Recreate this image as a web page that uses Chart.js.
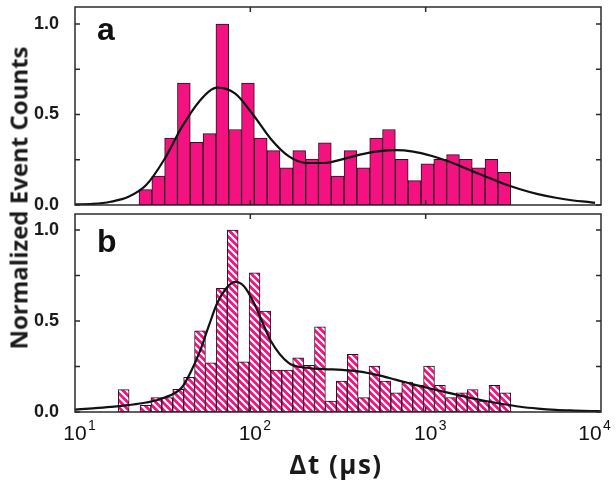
<!DOCTYPE html>
<html>
<head>
<meta charset="utf-8">
<script src="https://cdn.jsdelivr.net/npm/chart.js@4.4.1/dist/chart.umd.min.js"></script>
<style>
body { margin: 0; background: #fff; }
#wrap { position: relative; width: 616px; height: 480px; overflow: hidden; }
#wrap canvas { position: absolute; left: 0; }
.title { position: absolute; font-family: "Open Sans", sans-serif; font-weight: 700; color: #1a1a1a; white-space: nowrap; }
#ytitle { left: 18px; top: 198px; font-size: 24px; transform: translate(-50%, -50%) rotate(-90deg); }
#xtitle { left: 336px; top: 464px; font-size: 26px; letter-spacing: 1.5px; transform: translate(-50%, -50%); }
</style>
</head>
<body>
<div id="wrap">
  <canvas id="chartA" width="616" height="212" style="top:0px"></canvas>
  <canvas id="chartB" width="616" height="272" style="top:208px"></canvas>
  <div class="title" id="ytitle">Normalized Event Counts</div>
  <div class="title" id="xtitle">Δt (μs)</div>
</div>
<script>
// panel a - bin centres (us) and normalized counts
var binsA = [25.21, 29.84, 35.30, 41.77, 49.43, 58.49, 69.22, 81.90, 96.92, 114.7,
             135.7, 160.6, 190.0, 224.9, 266.1, 314.9, 372.6, 440.9, 521.8, 617.4,
             730.6, 864.5, 1023, 1210, 1432, 1695, 2005, 2373, 2808];
var countsA = [0.085, 0.16, 0.37, 0.674, 0.346, 0.394, 1.0, 0.417, 0.674, 0.37,
               0.30, 0.205, 0.30, 0.254, 0.344, 0.16, 0.30, 0.205, 0.37, 0.417,
               0.252, 0.135, 0.228, 0.252, 0.278, 0.252, 0.205, 0.252, 0.18];

// panel b - bin centres (us) and normalized counts
var binsB = [18.95, 21.87, 25.23, 29.12, 33.60, 38.77, 44.74, 51.63, 59.58, 68.76,
             79.34, 91.56, 105.7, 121.9, 140.7, 162.3, 187.4, 216.2, 249.5, 288.0,
             332.3, 383.5, 442.5, 510.6, 589.3, 680.0, 784.7, 905.6, 1045, 1206,
             1392, 1606, 1853, 2139, 2468, 2848];
var countsB = [0.123, 0, 0.037, 0.079, 0.079, 0.125, 0.19, 0.446, 0.27, 0.68,
               1.0, 0.275, 0.765, 0.554, 0.23, 0.23, 0.297, 0.257, 0.468, 0.06,
               0.17, 0.317, 0.079, 0.253, 0.17, 0.105, 0.165, 0.147, 0.253, 0.147,
               0.079, 0.105, 0.123, 0.06, 0.147, 0.105];

// fit curves (x given as log10 of us)
var fitLogA = [1.0, 1.102, 1.203, 1.305, 1.406, 1.508, 1.609, 1.711, 1.812, 1.914,
               2.015, 2.117, 2.218, 2.320, 2.422, 2.523, 2.625, 2.726, 2.828, 2.929,
               3.031, 3.132, 3.234, 3.335, 3.437, 3.539, 3.640, 3.742, 3.843, 3.945, 3.966];
var fitA = [0.003, 0.006, 0.018, 0.045, 0.11, 0.25, 0.43, 0.575, 0.648, 0.615,
            0.50, 0.365, 0.27, 0.232, 0.232, 0.252, 0.278, 0.296, 0.303, 0.295,
            0.272, 0.24, 0.20, 0.16, 0.12, 0.087, 0.06, 0.04, 0.025, 0.015, 0.012];

var fitLogB = [1.0, 1.102, 1.203, 1.305, 1.406, 1.508, 1.609, 1.660, 1.711, 1.762,
               1.812, 1.863, 1.914, 1.965, 2.015, 2.066, 2.117, 2.218, 2.320, 2.422,
               2.523, 2.625, 2.726, 2.828, 2.929, 3.031, 3.132, 3.234, 3.335, 3.437,
               3.539, 3.640, 3.742, 3.843, 3.945, 4.0];
var fitB = [0.013, 0.02, 0.028, 0.038, 0.052, 0.078, 0.135, 0.22, 0.33, 0.47,
            0.60, 0.68, 0.715, 0.69, 0.61, 0.50, 0.39, 0.27, 0.243, 0.236,
            0.232, 0.222, 0.203, 0.178, 0.152, 0.128, 0.105, 0.082, 0.062, 0.044,
            0.029, 0.019, 0.012, 0.008, 0.005, 0.004];

var xMajor = [10, 100, 1000, 10000];
var xExp = ['1', '2', '3', '4'];
var yMajor = [0, 0.5, 1.0];
var yMinor = [0, 0.25, 0.5, 0.75, 1.0];

var PINK = '#F3127F';
var FONT = '"Liberation Sans", Arial, sans-serif';

Chart.defaults.font.family = FONT;
Chart.defaults.color = '#1a1a1a';

// striped fill for panel b
function makeHatch() {
    var s = 7;
    var c = document.createElement('canvas');
    c.width = s; c.height = s;
    var g = c.getContext('2d');
    g.fillStyle = PINK;
    g.fillRect(0, 0, s, s);
    g.strokeStyle = '#fff';
    g.lineWidth = 2.2;
    g.beginPath();
    g.moveTo(-s, 0); g.lineTo(s, 2 * s);
    g.moveTo(0, 0); g.lineTo(s, s);
    g.moveTo(0, -s); g.lineTo(2 * s, s);
    g.stroke();
    return g.createPattern(c, 'repeat');
}

function toXY(xs, ys) {
    return xs.map(function (x, i) { return { x: x, y: ys[i] }; });
}
function logToXY(ls, ys) {
    return ls.map(function (l, i) { return { x: Math.pow(10, l), y: ys[i] }; });
}

// box, inward ticks, panel letter and 10^n labels
var framePlugin = {
    id: 'frame',
    afterDraw: function (chart, args, opts) {
        var ctx = chart.ctx, a = chart.chartArea;
        var xs = chart.scales.x, ys = chart.scales.y;
        ctx.save();
        ctx.strokeStyle = '#2b2b2b';
        ctx.lineWidth = 1.5;
        ctx.beginPath();
        xMajor.forEach(function (v) {
            if (v > 10 && v < 10000) {
                var px = xs.getPixelForValue(v);
                ctx.moveTo(px, a.top); ctx.lineTo(px, a.top + 5);
                ctx.moveTo(px, a.bottom); ctx.lineTo(px, a.bottom - 5);
            }
        });
        yMinor.forEach(function (v) {
            var py = ys.getPixelForValue(v);
            ctx.moveTo(a.left, py); ctx.lineTo(a.left + 5, py);
            ctx.moveTo(a.right, py); ctx.lineTo(a.right - 5, py);
        });
        ctx.stroke();
        ctx.strokeRect(a.left, a.top, a.right - a.left, a.bottom - a.top);

        ctx.fillStyle = '#111';
        ctx.textBaseline = 'alphabetic';
        ctx.font = 'bold 32px ' + FONT;
        ctx.fillText(opts.label, a.left + 22, a.top + opts.dy);

        if (opts.xLabels) {
            xMajor.forEach(function (v, i) {
                var px = xs.getPixelForValue(v);
                // keep the last label inside the canvas, as the original does
                var room = chart.width - 6 - (px + 20);
                if (room < 0) px += room;
                ctx.font = '21px ' + FONT;
                ctx.textAlign = 'center';
                ctx.fillText('10', px, a.bottom + 28);
                ctx.font = '14px ' + FONT;
                ctx.textAlign = 'left';
                ctx.fillText(xExp[i], px + 13, a.bottom + 18);
            });
        }
        ctx.restore();
    }
};

function noPad(scale) {
    scale.paddingTop = 0; scale.paddingBottom = 0;
    scale.paddingLeft = 0; scale.paddingRight = 0;
}

function panelOptions(yMax, showX, padding, xHeight, label, dy) {
    return {
        responsive: false,
        animation: false,
        devicePixelRatio: 1,
        events: [],
        layout: { padding: padding },
        plugins: {
            legend: { display: false },
            tooltip: { enabled: false },
            frame: { label: label, dy: dy, xLabels: showX }
        },
        scales: {
            x: {
                type: 'logarithmic',
                min: 10,
                max: 10000,
                offset: false,
                grid: { display: false },
                border: { display: false },
                afterBuildTicks: function (scale) {
                    scale.ticks = xMajor.map(function (v) { return { value: v, major: true }; });
                },
                afterFit: function (scale) { scale.height = xHeight; noPad(scale); },
                ticks: { display: false }
            },
            y: {
                min: 0,
                max: yMax,
                grid: { display: false },
                border: { display: false },
                afterBuildTicks: function (scale) {
                    scale.ticks = yMajor.map(function (v) { return { value: v }; });
                },
                afterFit: function (scale) { scale.width = 75; noPad(scale); },
                ticks: {
                    padding: 8,
                    font: { size: 18, weight: 'bold' },
                    callback: function (v) { return v.toFixed(1); }
                }
            }
        }
    };
}

new Chart(document.getElementById('chartA'), {
    type: 'bar',
    data: {
        datasets: [
            {
                type: 'line',
                data: logToXY(fitLogA, fitA),
                borderColor: '#111',
                borderWidth: 2.2,
                pointRadius: 0,
                cubicInterpolationMode: 'monotone',
                order: 0
            },
            {
                type: 'bar',
                data: toXY(binsA, countsA),
                backgroundColor: PINK,
                borderColor: '#2a1020',
                borderWidth: 1,
                borderSkipped: false,
                barPercentage: 1,
                categoryPercentage: 1,
                order: 1
            }
        ]
    },
    options: panelOptions(1.094, false, { top: 7, right: 15, bottom: 7, left: 0 }, 0, 'a', 33),
    plugins: [framePlugin]
});

new Chart(document.getElementById('chartB'), {
    type: 'bar',
    data: {
        datasets: [
            {
                type: 'line',
                data: logToXY(fitLogB, fitB),
                borderColor: '#111',
                borderWidth: 2.2,
                pointRadius: 0,
                cubicInterpolationMode: 'monotone',
                order: 0
            },
            {
                type: 'bar',
                data: toXY(binsB, countsB),
                backgroundColor: makeHatch(),
                borderColor: '#2a1020',
                borderWidth: 1,
                borderSkipped: false,
                barPercentage: 1,
                categoryPercentage: 1,
                order: 1
            }
        ]
    },
    options: panelOptions(1.088, true, { top: 6, right: 15, bottom: 8, left: 0 }, 60, 'b', 38),
    plugins: [framePlugin]
});
</script>
</body>
</html>
